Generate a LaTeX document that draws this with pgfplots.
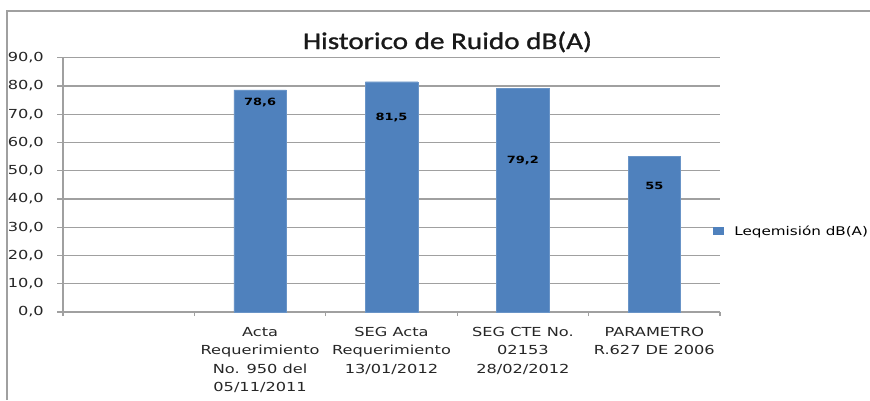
\documentclass[border=0pt]{standalone}
\usepackage{fontspec}
\usepackage{pgfplots}
\pgfplotsset{compat=1.18}
\setmainfont{DejaVu Sans}[FakeStretch=1.3]
\newfontfamily\titlefont{Carlito}[FakeStretch=1.22, FakeBold=1.2]
\newfontfamily\legfont{DejaVu Sans}[FakeStretch=1.27]
\definecolor{barblue}{RGB}{79,129,189}
\definecolor{gridgray}{RGB}{160,160,160}
\begin{document}
\begin{tikzpicture}[x=1bp,y=1bp]
\useasboundingbox (0,0) rectangle (870,400);
\draw[gridgray, line width=1.5bp] (7,0) -- (7,389) -- (870,389);
\node[anchor=base, font=\titlefont\fontsize{24}{28}\selectfont, text=black!90, inner sep=0pt] at (447.5,351) {Historico de Ruido dB(A)};
\begin{axis}[
  at={(63bp,88bp)}, anchor=south west,
  scale only axis, width=657bp, height=254.3bp,
  ymin=0, ymax=90, ytick={0,10,...,90},
  xmin=-0.5, xmax=4.5,
  xtick={1,2,3,4},
  xticklabels={{Acta\\Requerimiento\\No. 950 del\\05/11/2011},{SEG Acta\\Requerimiento\\13/01/2012},{SEG CTE No.\\02153\\28/02/2012},{PARAMETRO\\R.627 DE 2006}},
  minor xtick={-0.5,0.5,...,4.5},
  major x tick style={draw=none},
  minor x tick style={draw=gridgray, line width=1.2bp},
  minor tick length=4bp,
  major tick length=6bp,
  tick align=outside,
  axis x line*=bottom, axis y line*=left,
  axis line style={draw=gridgray, line width=1.2bp, -},
  ymajorgrids,
  major grid style={draw=gridgray, line width=1.2bp},
  y tick style={draw=gridgray, line width=1.2bp},
  /pgf/number format/assume math mode=true,
  yticklabel style={/pgf/number format/fixed, /pgf/number format/fixed zerofill, /pgf/number format/precision=1, /pgf/number format/use comma, font=\fontsize{12.5}{15}\selectfont, text=black!85, inner sep=0pt, anchor=east, xshift=-13bp},
  xticklabel style={align=center, font=\fontsize{12.5}{18.5}\selectfont, text=black!85, inner sep=0pt, anchor=north, yshift=-9bp},
  ybar, bar width=52.5bp,
  legend style={at={(0.989,0.3185)}, anchor=west, draw=none, fill=none, inner sep=0pt, font=\legfont\fontsize{12}{14}\selectfont},
  legend image code/.code={\path (0bp,0bp) (19bp,0bp); \fill[barblue, draw=none] (0bp,-4bp) rectangle (11bp,4bp);},
]
\addplot[fill=barblue, draw=barblue!85!white] coordinates {(1,78.6) (2,81.5) (3,79.2) (4,55)};
\addlegendentry{Leqemisión dB(A)}
\node[font=\bfseries\fontsize{10}{12}\selectfont, text=black] at (axis cs:1,74.3) {78,6};
\node[font=\bfseries\fontsize{10}{12}\selectfont, text=black] at (axis cs:2,69) {81,5};
\node[font=\bfseries\fontsize{10}{12}\selectfont, text=black] at (axis cs:3,53.6) {79,2};
\node[font=\bfseries\fontsize{10}{12}\selectfont, text=black] at (axis cs:4,44.6) {55};
\end{axis}
\end{tikzpicture}
\end{document}
